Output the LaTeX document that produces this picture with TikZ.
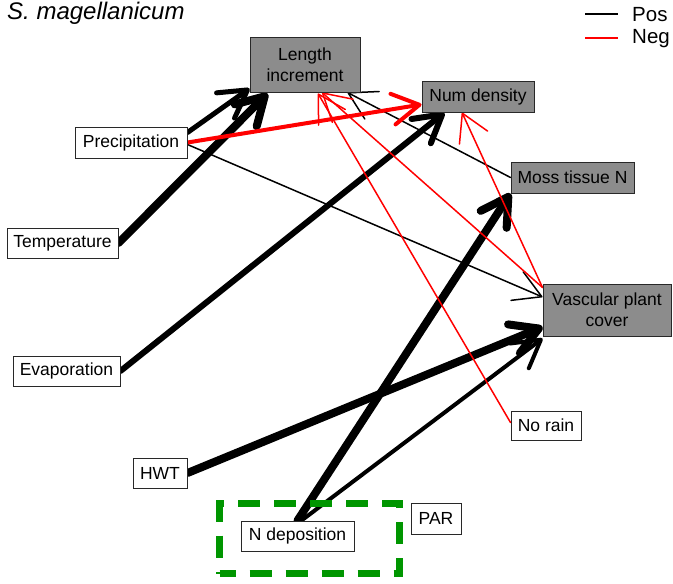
\documentclass[tikz,border=0pt]{standalone}
\usepackage{fontspec}
\setmainfont{Liberation Sans}
\usetikzlibrary{arrows.meta,calc}
\definecolor{boxgray}{RGB}{140,140,140}
\definecolor{boxline}{RGB}{40,40,40}
\definecolor{grpgreen}{RGB}{0,150,0}
\definecolor{negred}{RGB}{255,0,0}
\pgfdeclarelayer{bg}
\pgfsetlayers{bg,main}
\tikzset{
  lbl/.style={draw=boxline, line width=1pt, fill=white, inner sep=0pt,
    font=\fontsize{17.5}{21}\selectfont, align=center},
  resp/.style={lbl, fill=boxgray},
  posarr/.style={draw=black, line cap=round, line join=round,
    -{Straight Barb[angle=60:31pt, round]}},
  negarr/.style={posarr, draw=negred},
}
\begin{document}
\begin{tikzpicture}[x=1pt,y=-1pt]
\useasboundingbox (0,0) rectangle (673,584);

% title and legend
\node[anchor=base west, inner sep=0pt, font=\fontsize{24}{28}\selectfont\itshape] (title) at (7,19) {S. magellanicum};
\node[anchor=west, inner sep=0pt, font=\fontsize{20.5}{24}\selectfont] (lpos) at (632,15) {Pos};
\node[anchor=west, inner sep=0pt, font=\fontsize{20.5}{24}\selectfont] (lneg) at (632,39) {Neg};
\coordinate (lpa) at (585,14); \coordinate (lpb) at (618,14);
\coordinate (lna) at (585,38); \coordinate (lnb) at (618,38);
\draw[line width=1.5pt, black] (lpa) -- (lpb);
\draw[line width=1.5pt, negred] (lna) -- (lnb);

% response nodes
\node[resp, minimum width=110, minimum height=55] (len) at (305,64.5) {Length\\increment};
\node[resp, minimum width=112, minimum height=31] (num) at (478,96.5) {Num density};
\node[resp, minimum width=123, minimum height=31] (moss) at (572.5,177.5) {Moss tissue N};
\node[resp, minimum width=128, minimum height=52] (vasc) at (607,310) {Vascular plant\\cover};

% predictor nodes
\node[lbl, minimum width=112, minimum height=31] (prec) at (131,142.5) {Precipitation};
\node[lbl, minimum width=111, minimum height=30] (temp) at (62.5,243) {Temperature};
\node[lbl, minimum width=107, minimum height=30] (evap) at (66.5,371) {Evaporation};
\node[lbl, minimum width=54, minimum height=30] (hwt) at (160,473) {HWT};
\node[lbl, minimum width=113, minimum height=30] (ndep) at (297.5,536) {N deposition};
\node[lbl, minimum width=50, minimum height=31] (par) at (436,518.5) {PAR};
\node[lbl, minimum width=70, minimum height=29] (norain) at (546,425.5) {No rain};

% green dashed group
\node[draw=grpgreen, line width=7pt, dash pattern=on 22pt off 14pt, dash phase=6pt,
  minimum width=180, minimum height=70, inner sep=0pt] (grp) at (309.5,538.5) {};

\begin{pgfonlayer}{bg}
% positive effects
\draw[posarr, line width=5pt] ($(prec.east)+(0,-10)$) -- ($(len.south west)+(0,-4)$);
\draw[posarr, line width=8pt] (temp.east) -- ($(len.south west)+(18,1)$);
\draw[posarr, line width=6pt] (evap.east) -- ($(num.south west)+(23,0)$);
\draw[posarr, line width=1.5pt] ($(prec.east)+(0,2)$) -- ($(vasc.west)+(0,-13)$);
\draw[posarr, line width=1.5pt] (moss.west) -- ($(len.south east)+(-13,0)$);
\draw[posarr, line width=8pt] (ndep.north) -- (moss.south west);
\draw[posarr, line width=4pt] ($(ndep.north)+(4,0)$) -- ($(vasc.south west)+(0,2)$);
\draw[posarr, line width=8pt] (hwt.east) -- ($(vasc.west)+(0,17)$);
% negative effects
\draw[negarr, line width=4pt] (prec.east) -- ($(num.west)+(0,8)$);
\draw[negarr, line width=1.5pt] ($(norain.west)+(0,-3)$) -- ($(len.south)+(13,1)$);
\draw[negarr, line width=1.5pt] ($(vasc.north west)+(0,4)$) -- ($(len.south)+(17,0)$);
\draw[negarr, line width=1.5pt] ($(vasc.north west)+(0,4)$) -- ($(num.south)+(-16,0)$);
\end{pgfonlayer}
\end{tikzpicture}
\end{document}
